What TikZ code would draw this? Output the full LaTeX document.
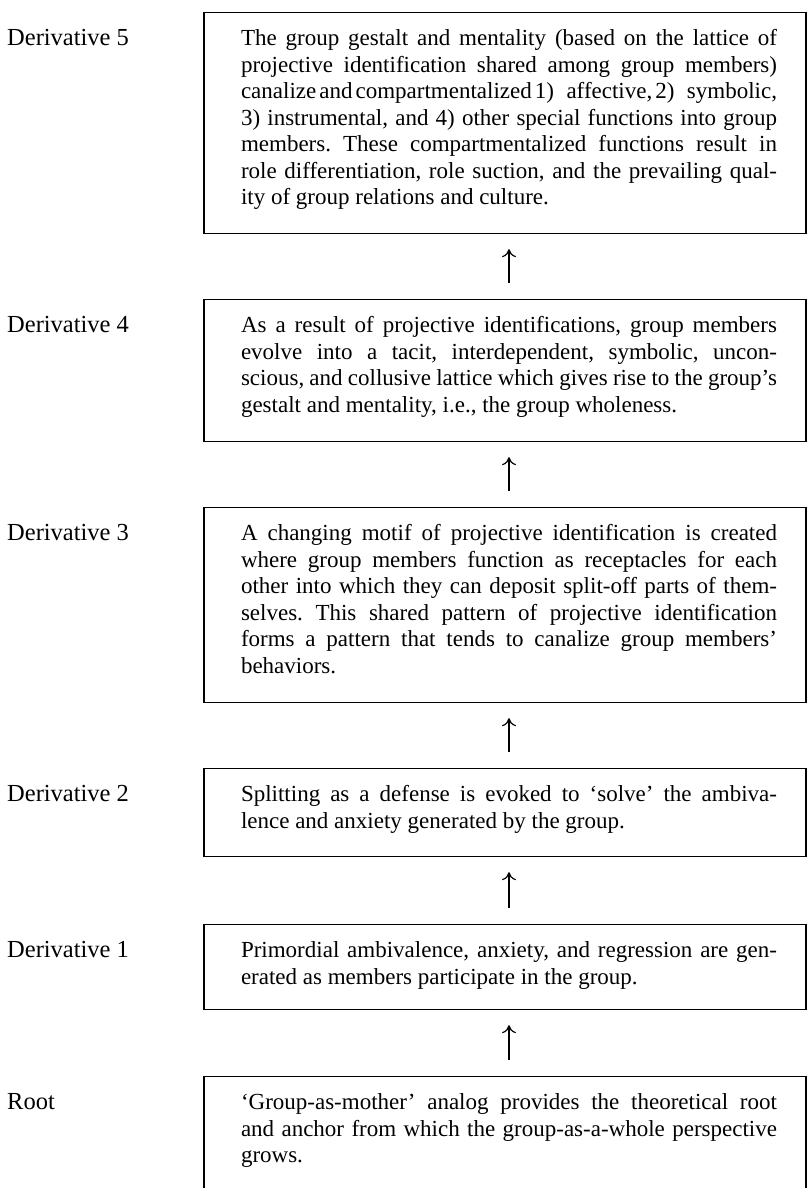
\documentclass[tikz,border=0pt]{standalone}
\usepackage{fontspec}
\setmainfont{Liberation Serif}
\usetikzlibrary{arrows.meta,calc}
\frenchspacing
\begin{document}
\begin{tikzpicture}[x=1pt,y=1pt,
  txtfont/.style={font=\fontsize{23}{26.5}\selectfont},
  stepbox/.style={txtfont, draw, line width=1.2pt, rectangle, text width=544pt,
    align=justify, inner xsep=29pt, inner ysep=0pt, text height=33pt, anchor=north,
    execute at begin node={\leftskip=8pt\hyphenpenalty=10000\frenchspacing\relax}},
  lab/.style={font=\fontsize{24.5}{28}\selectfont, anchor=base west, inner sep=0pt},
  arr/.style={-{To[length=8pt,width=14pt]}, line width=1.2pt, shorten <=16pt, shorten >=15pt}]
\useasboundingbox (0,0) rectangle (808,-1188);
\clip (0,0) rectangle (808,-1188);
\coordinate (lx) at (7,0);

\node[stepbox, text depth=188pt] (d5) at (505,-12) {The group gestalt and mentality (based on the lattice of\linebreak
projective identification shared among group members)\linebreak
canalize\hspace{3pt}and\hspace{3pt}compartmentalized\hspace{3pt}1) affective,\hspace{3pt}2) symbolic,\linebreak
3) instrumental, and 4) other special functions into group\linebreak
members. These compartmentalized functions result in\linebreak
role differentiation, role suction, and the prevailing qual-\linebreak
ity of group relations and culture.};

\node[stepbox, text depth=109pt] (d4) at (505,-299) {As a result of projective identifications, group members\linebreak
evolve into a tacit, interdependent, symbolic, uncon-\linebreak
scious, and collusive lattice which gives rise to the group’s\linebreak
gestalt and mentality, i.e., the group wholeness.};

\node[stepbox, text depth=162pt] (d3) at (505,-507) {A changing motif of projective identification is created\linebreak
where group members function as receptacles for each\linebreak
other into which they can deposit split-off parts of them-\linebreak
selves. This shared pattern of projective identification\linebreak
forms a pattern that tends to canalize group members’\linebreak
behaviors.};

\node[stepbox, text depth=55pt] (d2) at (505,-768) {Splitting as a defense is evoked to ‘solve’ the ambiva-\linebreak
lence and anxiety generated by the group.};

\node[stepbox, text depth=52pt] (d1) at (505,-924) {Primordial ambivalence, anxiety, and regression are gen-\linebreak
erated as members participate in the group.};

\node[stepbox, text depth=82pt] (root) at (505,-1076) {‘Group-as-mother’ analog provides the theoretical root\linebreak
and anchor from which the group-as-a-whole perspective\linebreak
grows.};

\node[lab] (l5) at (d5.base -| lx) {Derivative 5};
\node[lab] (l4) at (d4.base -| lx) {Derivative 4};
\node[lab] (l3) at (d3.base -| lx) {Derivative 3};
\node[lab] (l2) at (d2.base -| lx) {Derivative 2};
\node[lab] (l1) at (d1.base -| lx) {Derivative 1};
\node[lab] (lr) at (root.base -| lx) {Root};

\draw[arr] ([xshift=4pt]d4.north) -- ([xshift=4pt]d5.south);
\draw[arr] ([xshift=4pt]d3.north) -- ([xshift=4pt]d4.south);
\draw[arr] ([xshift=4pt]d2.north) -- ([xshift=4pt]d3.south);
\draw[arr] ([xshift=4pt]d1.north) -- ([xshift=4pt]d2.south);
\draw[arr] ([xshift=4pt]root.north) -- ([xshift=4pt]d1.south);
\end{tikzpicture}
\end{document}
